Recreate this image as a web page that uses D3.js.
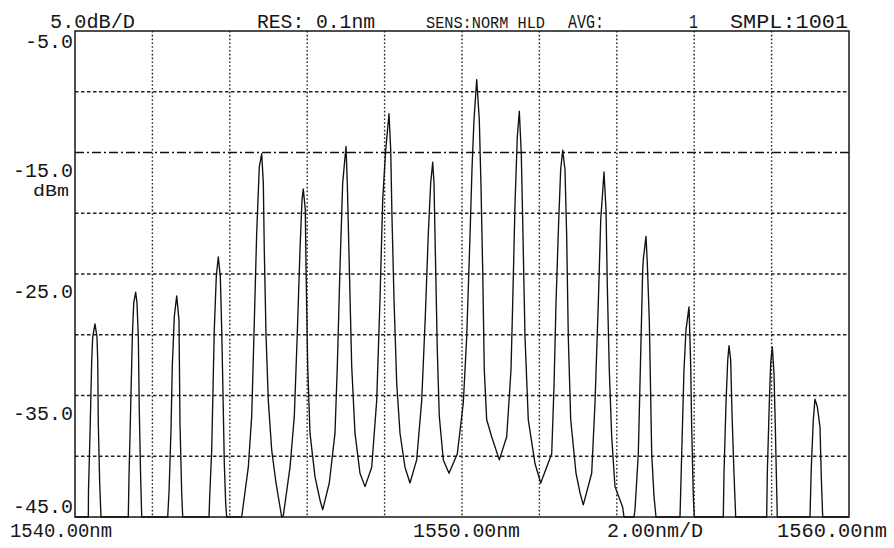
<!DOCTYPE html>
<html><head><meta charset="utf-8">
<script src="https://cdn.jsdelivr.net/npm/d3@7"></script>
<style>html,body{margin:0;padding:0;background:#fff;} svg{display:block;}</style>
</head><body>
<svg id="chart" width="894" height="548"></svg>
<script>
// ---- data ----
const xDomainNm = [1540, 1560];
const yDomainDbm = [-45, -5];
const xGridNm = [1542, 1544, 1546, 1548, 1550, 1552, 1554, 1556, 1558];
const yGridDbm = [-10, -20, -25, -30, -35, -40];
const yRefDbm = -15;
const yLabelValues = [-5, -15, -25, -35, -45];
const yLabelTexts = ["-5.0", "-15.0", "-25.0", "-35.0", "-45.0"];
const yUnitText = "dBm";
const xLabelTexts = ["1540.00nm", "1550.00nm", "2.00nm/D", "1560.00nm"];
const headerTexts = ["5.0dB/D", "RES: 0.1nm", "SENS:NORM HLD", "AVG:", "1", "SMPL:1001"];

// spectrum trace [wavelength nm, level dBm]
const traceLeft = [
  [1540.000,-45],
  [1540.344,-45],[1540.349,-42.8],[1540.388,-38.1],[1540.432,-32.1],[1540.457,-30.2],[1540.517,-29.1],[1540.568,-30.2],[1540.587,-32.1],[1540.602,-37.3],[1540.638,-42.2],[1540.672,-45],
  [1541.377,-45],[1541.395,-41.7],[1541.429,-37.3],[1541.481,-30.2],[1541.517,-27.4],[1541.568,-26.5],[1541.602,-27.4],[1541.636,-30.2],[1541.661,-36.2],[1541.698,-42.0],[1541.724,-45],
  [1542.395,-45],[1542.429,-43.0],[1542.481,-37.8],[1542.514,-32.6],[1542.566,-28.5],[1542.628,-26.8],[1542.687,-28.8],[1542.713,-37.3],[1542.757,-43.0],[1542.783,-45],
  [1543.463,-45],[1543.481,-43.3],[1543.532,-39.5],[1543.599,-29.6],[1543.651,-25.2],[1543.703,-23.6],[1543.755,-25.2],[1543.791,-29.6],[1543.824,-34.8],[1543.858,-40.6],[1543.894,-43.9],[1543.920,-45]
];
const traceCenter = [
  [1544.307,-45],[1544.478,-40.9],[1544.566,-36.7],[1544.625,-29.9],[1544.695,-21.6],[1544.762,-16.2],[1544.824,-15.1],[1544.866,-17.5],[1544.891,-23.0],[1544.935,-29.9],[1544.995,-35.4],[1545.083,-39.5],[1545.194,-42.2],[1545.341,-45.0],
  [1545.382,-44.9],[1545.556,-40.9],[1545.667,-36.7],[1545.744,-29.9],[1545.814,-23.0],[1545.866,-18.9],[1545.899,-18.0],[1545.951,-19.7],[1545.969,-24.4],[1546.013,-32.6],[1546.072,-38.1],[1546.202,-41.7],[1546.331,-43.6],[1546.401,-44.4],
  [1546.571,-42.2],[1546.718,-38.1],[1546.778,-32.6],[1546.848,-24.4],[1546.917,-17.5],[1547.003,-14.5],[1547.036,-17.5],[1547.088,-24.4],[1547.150,-32.6],[1547.235,-38.1],[1547.364,-41.4],[1547.494,-42.5],
  [1547.667,-40.9],[1547.796,-35.4],[1547.881,-27.1],[1547.951,-18.9],[1548.028,-14.8],[1548.114,-11.8],[1548.158,-14.8],[1548.191,-20.3],[1548.243,-27.1],[1548.313,-34.0],[1548.398,-38.1],[1548.527,-40.9],[1548.656,-42.2],
  [1548.829,-40.3],[1548.959,-35.4],[1549.052,-28.5],[1549.129,-21.7],[1549.191,-17.5],[1549.243,-15.8],[1549.276,-17.5],[1549.310,-23.0],[1549.362,-31.3],[1549.413,-36.7],[1549.517,-40.3],[1549.664,-41.4],
  [1549.879,-39.8],[1550.034,-35.6],[1550.121,-30.2],[1550.207,-21.9],[1550.258,-16.4],[1550.310,-12.3],[1550.380,-9.0],[1550.447,-12.3],[1550.491,-17.8],[1550.535,-24.7],[1550.576,-32.9],[1550.638,-37.0],[1550.767,-38.4],[1550.964,-40.3],
  [1551.155,-38.4],[1551.266,-32.9],[1551.310,-27.4],[1551.370,-19.2],[1551.429,-13.7],[1551.481,-11.6],[1551.532,-15.1],[1551.568,-20.6],[1551.628,-30.2],[1551.713,-37.0],[1551.886,-40.6],[1552.034,-42.2],
  [1552.318,-39.8],[1552.377,-34.3],[1552.429,-27.4],[1552.499,-20.6],[1552.550,-16.4],[1552.602,-14.8],[1552.661,-16.4],[1552.705,-21.9],[1552.747,-30.2],[1552.809,-37.0],[1552.946,-41.4],[1553.049,-43.0],[1553.134,-44.0],
  [1553.351,-41.4],[1553.437,-35.6],[1553.522,-27.4],[1553.584,-20.6],[1553.669,-16.6],[1553.721,-19.7],[1553.755,-26.0],[1553.806,-32.9],[1553.868,-38.4],[1553.953,-42.5],[1554.083,-43.6],[1554.152,-44.2],[1554.186,-45]
];
const traceRight = [
  [1554.444,-45],[1554.470,-44.4],[1554.556,-39.8],[1554.618,-31.5],[1554.669,-24.7],[1554.685,-23.8],[1554.755,-21.9],[1554.788,-24.1],[1554.840,-28.8],[1554.902,-39.8],[1554.961,-43.3],[1555.013,-45],
  [1555.633,-45],[1555.677,-39.8],[1555.736,-32.9],[1555.788,-29.6],[1555.866,-27.7],[1555.910,-32.6],[1555.935,-37.6],[1555.977,-43.3],[1556.003,-45],
  [1556.752,-45],[1556.770,-41.4],[1556.822,-35.6],[1556.866,-32.1],[1556.899,-30.9],[1556.943,-32.1],[1556.977,-36.5],[1557.028,-41.4],[1557.072,-45],
  [1557.873,-45],[1557.889,-41.4],[1557.941,-35.6],[1557.977,-32.3],[1558.018,-31.0],[1558.062,-33.2],[1558.096,-37.6],[1558.147,-45],
  [1558.992,-45],[1559.026,-40.9],[1559.078,-37.0],[1559.121,-35.3],[1559.181,-35.9],[1559.251,-37.6],[1559.284,-41.7],[1559.320,-45],
  [1560.000,-45]
];

// ---- layout ----
const W = 894, H = 548;
const plot = {left: 75, right: 849, top: 31, bottom: 517};
const FONT = "'Liberation Mono','DejaVu Sans Mono',monospace";
const INK = "#161616";

const svg = d3.select("#chart");
svg.append("rect").attr("width", W).attr("height", H).attr("fill", "#fff");

const x = d3.scaleLinear().domain(xDomainNm).range([plot.left, plot.right]);
const y = d3.scaleLinear().domain(yDomainDbm).range([plot.bottom, plot.top]);

// grid
const g = svg.append("g");
g.selectAll(".vg").data(xGridNm).join("line")
  .attr("x1", d => x(d)).attr("x2", d => x(d))
  .attr("y1", plot.top).attr("y2", plot.bottom)
  .attr("stroke", "#222").attr("stroke-width", 1.4)
  .attr("stroke-dasharray", "1.6,2.2");
g.selectAll(".hg").data(yGridDbm).join("line")
  .attr("x1", plot.left).attr("x2", plot.right)
  .attr("y1", d => y(d)).attr("y2", d => y(d))
  .attr("stroke", "#222").attr("stroke-width", 1.4)
  .attr("stroke-dasharray", "3.5,2.5");
g.append("line")
  .attr("x1", plot.left).attr("x2", plot.right)
  .attr("y1", y(yRefDbm)).attr("y2", y(yRefDbm))
  .attr("stroke", "#111").attr("stroke-width", 1.5)
  .attr("stroke-dasharray", "9,3,2,3");

// frame
svg.append("rect")
  .attr("x", plot.left).attr("y", plot.top)
  .attr("width", plot.right - plot.left).attr("height", plot.bottom - plot.top)
  .attr("fill", "none").attr("stroke", INK).attr("stroke-width", 1.5);

// trace
const trace = traceLeft.concat(traceCenter, traceRight);
const line = d3.line().x(d => x(d[0])).y(d => y(d[1])).curve(d3.curveLinear);
svg.append("path").datum(trace)
  .attr("d", line)
  .attr("fill", "none").attr("stroke", "#111").attr("stroke-width", 1.35)
  .attr("stroke-linejoin", "round");

// text helper
function txt(s, x0, base, len, fs) {
  svg.append("text")
    .attr("x", x0).attr("y", base)
    .attr("font-family", FONT).attr("font-size", fs || 20)
    .attr("fill", INK)
    .attr("textLength", len).attr("lengthAdjust", "spacingAndGlyphs")
    .text(s);
}

// header
const headerX = [50, 257, 426, 568, 689, 730];
const headerLen = [85, 118, 119, 36, 9, 118];
const headerFs = [20, 20, 17, 20, 20, 20];
headerTexts.forEach((s, i) => txt(s, headerX[i], 28, headerLen[i], headerFs[i]));

// y labels (right aligned at x=73)
const yLabelOffset = [17, 24, 24, 24, -4];
yLabelTexts.forEach((s, i) => {
  const len = s.length * 12;
  txt(s, 73 - len, y(yLabelValues[i]) + yLabelOffset[i], len, 20);
});
txt(yUnitText, 33, y(yRefDbm) + 43, 36, 17);

// x labels
txt(xLabelTexts[0], 10, 537, 102);
txt(xLabelTexts[1], 413, 537, 107);
txt(xLabelTexts[2], 607, 537, 96);
txt(xLabelTexts[3], 777, 537, 110);
</script>
</body></html>
